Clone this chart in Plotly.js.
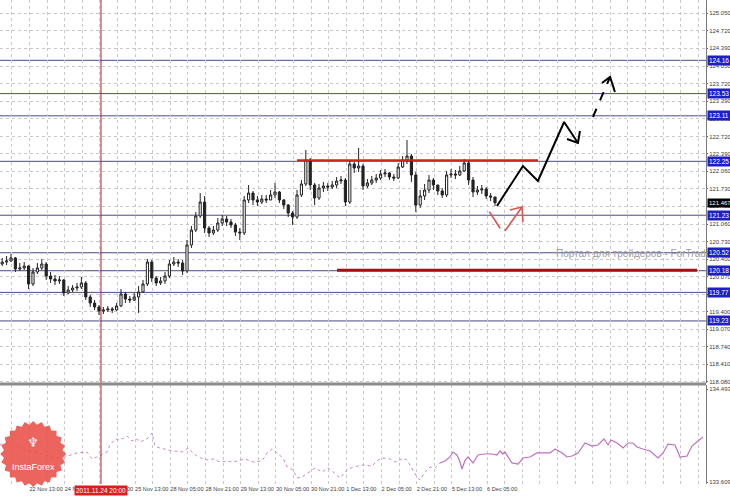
<!DOCTYPE html>
<html><head><meta charset="utf-8">
<script src="https://cdn.plot.ly/plotly-3.0.1.min.js"></script>
<style>html,body{margin:0;padding:0;background:#fff}#c{width:730px;height:497px}</style>
</head><body><div id="c"></div>
<script>
// ---- price candles (H2 bars, x in H1-bar units) ----
const open = [120.307,120.345,120.364,120.421,120.213,120.232,120.269,119.929,120.156,120.232,
120.307,120.080,120.024,119.986,120.005,119.759,119.815,119.853,119.872,119.948,
119.683,119.569,119.494,119.418,119.437,119.456,119.437,119.513,119.740,119.645,
119.626,119.683,119.778,119.929,120.345,120.042,119.948,119.986,120.080,120.307,
120.345,120.326,120.175,120.667,120.950,121.215,121.480,120.988,120.894,120.950,
121.083,121.159,121.102,121.045,120.913,120.894,121.518,121.650,121.518,121.480,
121.537,121.518,121.613,121.669,121.518,121.423,121.272,121.196,121.613,121.821,
122.275,121.802,121.556,121.745,121.783,121.764,121.802,121.877,121.896,121.480,
122.199,122.123,122.161,121.783,121.840,121.896,121.934,122.010,122.029,121.953,
121.934,122.142,122.275,122.350,121.991,121.423,121.594,121.707,121.896,121.802,
121.688,121.613,121.991,122.010,121.991,122.067,122.218,121.896,121.669,121.707,
121.726,121.594,121.575];
const high = [120.421,120.459,120.496,120.440,120.326,120.345,120.288,120.232,120.326,120.402,
120.345,120.156,120.099,120.080,120.024,119.891,119.910,119.948,120.061,119.986,
119.721,119.626,119.532,119.494,119.513,119.494,119.569,119.834,119.778,119.702,
119.759,119.891,120.005,120.402,120.383,120.080,120.061,120.156,120.383,120.440,
120.402,120.383,120.761,121.026,121.291,121.650,121.594,121.026,121.026,121.178,
121.234,121.215,121.159,121.083,120.988,121.594,121.802,121.688,121.594,121.613,
121.613,121.707,121.840,121.688,121.537,121.442,121.310,121.707,121.896,122.464,
122.313,121.840,121.821,121.859,121.840,121.877,121.953,121.972,121.934,122.275,
122.237,122.502,122.199,121.915,121.972,122.010,122.086,122.104,122.048,122.010,
122.218,122.350,122.653,122.388,122.048,121.707,121.821,121.991,121.934,121.802,
121.745,122.067,122.104,122.086,122.161,122.294,122.256,121.953,121.783,121.802,
121.764,121.650,121.575];
const low = [120.269,120.288,120.345,120.156,120.175,120.194,119.834,119.891,120.118,120.194,
120.005,119.948,119.910,119.929,119.702,119.740,119.778,119.796,119.834,119.626,
119.494,119.437,119.342,119.361,119.399,119.380,119.418,119.494,119.569,119.569,
119.607,119.380,119.759,119.891,119.967,119.891,119.910,119.929,120.042,120.269,
120.251,120.099,120.137,120.610,120.913,121.178,120.894,120.818,120.856,120.913,
121.026,121.026,120.988,120.837,120.761,120.856,121.461,121.423,121.405,121.442,
121.461,121.518,121.556,121.461,121.348,121.196,121.045,121.159,121.575,121.783,
121.707,121.423,121.518,121.669,121.688,121.726,121.745,121.821,121.405,121.442,
122.029,122.048,121.707,121.745,121.802,121.840,121.896,121.953,121.896,121.877,
121.915,122.123,122.199,121.859,121.291,121.367,121.518,121.650,121.707,121.613,
121.556,121.575,121.934,121.915,121.972,122.048,121.802,121.575,121.613,121.632,
121.537,121.499,121.405];
const close = [120.345,120.364,120.421,120.213,120.232,120.269,119.929,120.156,120.232,120.307,
120.080,120.024,119.986,120.005,119.759,119.815,119.853,119.872,119.948,119.683,
119.569,119.494,119.418,119.437,119.456,119.437,119.513,119.740,119.645,119.626,
119.683,119.778,119.929,120.345,120.042,119.948,119.986,120.080,120.307,120.345,
120.326,120.175,120.667,120.950,121.215,121.480,120.988,120.894,120.950,121.083,
121.159,121.102,121.045,120.913,120.894,121.518,121.650,121.518,121.480,121.537,
121.518,121.613,121.669,121.518,121.423,121.272,121.196,121.613,121.821,122.275,
121.802,121.556,121.745,121.783,121.764,121.802,121.877,121.896,121.480,122.199,
122.123,122.161,121.783,121.840,121.896,121.934,122.010,122.029,121.953,121.934,
122.142,122.275,122.350,121.991,121.423,121.594,121.707,121.896,121.802,121.688,
121.613,121.991,122.010,121.991,122.067,122.218,121.896,121.669,121.707,121.726,
121.594,121.575,121.467];
const lastPrice = 121.467;

// ---- horizontal levels ----
const levelValues = [124.16,123.53,123.11,122.25,121.23,120.52,120.18,119.77,119.23];
const levelLabels = ["124.16","123.53","123.11","122.25","121.23","120.52","120.18","119.77","119.23"];
const resistanceLine = {x:[135,244.5], y:[122.27,122.27]};
const supportLine = {x:[153.2,316.8], y:[120.19,120.19]};

// ---- forecast drawings ----
const forecastX = [225.9,237.7,244.5,256.4,262.7,null,257.7,262.7,263.6];
const forecastY = [121.405,122.161,121.877,122.994,122.596,null,122.672,122.596,122.823];
const forecastDashX = [269.5,277.3];
const forecastDashY = [123.088,123.845];
const forecastHeadX = [273.6,277.3,279.5];
const forecastHeadY = [123.731,123.845,123.561];
const altX = [222.4,227.3,null,229.5,237.3,null,231.8,237.3,237.7];
const altY = [121.297,120.983,null,120.932,121.386,null,121.329,121.386,121.102];

// ---- indicator sub-window ----
const indDotX = [0,2.3,4.5,8.2,11.8,15.9,20.5,25,29.5,35,39.5,41.8,44.1,46.4,48.6,50,52.3,54.5,57.7,60,62.3,63.6,66.8,69.1,70.5,72.7,75.9,78.6,82.7,85.5,87.3,90,94.1,96.8,100,103.2,105.9,111.4,115,119.1,121.4,123.6,125.9,128.6,130.5,133.2,135,137.3,140,143.2,146.4,149.1,151.4,154.5,157.7,160.5,165,169.1,171.8,174.1,177.3,179.5,181.8,183.2,185,187.3,189.5,190.9,193.2,195.5,197.7,200];
const indDotY = [133.961,133.980,133.980,133.942,133.913,133.894,133.866,133.837,133.847,133.885,133.894,133.828,133.847,133.875,133.894,133.961,134.018,134.008,134.046,133.999,134.018,133.989,134.018,134.075,133.951,133.932,133.913,133.904,133.894,133.932,133.894,133.847,133.818,133.828,133.799,133.809,133.799,133.828,133.799,133.809,133.885,133.923,133.885,133.837,133.752,133.723,133.647,133.657,133.695,133.742,133.704,133.742,133.704,133.647,133.723,133.752,133.771,133.761,133.818,133.837,133.828,133.799,133.818,133.837,133.818,133.742,133.657,133.628,133.704,133.752,133.742,133.790];
const indSolidX = [200,202.3,204.5,205.9,207.7,209.1,210,211.4,212.7,215,217.3,220.5,223.6,225.9,227.3,228.6,229.5,232.7,235.5,237.7,240.9,244.1,246.8,250,252.3,255.5,257.7,260,262.7,265.9,269.1,271.8,274.5,276.4,277.7,280.5,283.2,285.5,287.7,289.5,292.3,295.5,299.1,301.4,303.6,306.8,309.1,312.3,314.5,317.3,319.5];
const indSolidY = [133.790,133.809,133.847,133.894,133.866,133.799,133.733,133.818,133.847,133.790,133.866,133.875,133.875,133.866,133.904,133.875,133.894,133.790,133.780,133.837,133.847,133.885,133.885,133.885,133.923,133.885,133.847,133.856,133.885,133.980,133.951,133.961,134.018,133.961,134.008,133.980,133.932,133.980,133.980,133.942,133.923,133.904,133.837,133.885,133.970,133.961,133.847,133.856,133.951,133.999,134.037];
const indTicks = [134.493,133.609];
const indTickText = ["134.493","133.609"];

// ---- axes ticks ----
const priceTicks = [125.05,124.72,124.39,124.05,123.72,123.39,123.06,122.72,122.39,122.06,121.73,121.40,121.06,120.73,120.40,120.07,119.73,119.40,119.07,118.74,118.41,118.08];
const priceTickText = ["125.050","124.720","124.390","124.050","123.720","123.390","123.060","122.720","122.390","122.060","121.730","121.400","121.060","120.730","120.400","120.070","119.730","119.400","119.070","118.740","118.410","118.080"];
const timeTicks = [13.4,29.4,45.4,61.4,77.4,93.4,109.4,125.4,141.4,157.4,173.4,189.4,205.4,221.4];
const timeTickText = ["22 Nov 13:00","24 Nov 05:00","24 Nov 21:00","25 Nov 13:00","28 Nov 05:00","28 Nov 21:00","29 Nov 13:00","30 Nov 05:00","30 Nov 21:00","1 Dec 13:00","2 Dec 05:00","2 Dec 21:00","5 Dec 13:00","6 Dec 05:00"];
const firstTick = {x:-2.6, text:"21 Nov 21:00"};
const markerTime = {x:45.9, text:"2011.11.24 20:00"};

const barX = open.map((_, j) => 1 + 2*j);
const FONT = "Liberation Sans, Arial, sans-serif";

const traces = [
  {type:'candlestick', x:barX, open:open, high:high, low:low, close:close, xaxis:'x', yaxis:'y',
   increasing:{line:{color:'#222222',width:1}, fillcolor:'#ffffff'},
   decreasing:{line:{color:'#222222',width:1}, fillcolor:'#222222'},
   whiskerwidth:0, hoverinfo:'skip', showlegend:false},
  {type:'scatter', mode:'lines', x:resistanceLine.x, y:resistanceLine.y, yaxis:'y',
   line:{color:'#d62020',width:2}, hoverinfo:'skip', showlegend:false},
  {type:'scatter', mode:'lines', x:supportLine.x, y:supportLine.y, yaxis:'y',
   line:{color:'#a50f0f',width:3}, hoverinfo:'skip', showlegend:false},
  {type:'scatter', mode:'lines', x:forecastX, y:forecastY, yaxis:'y',
   line:{color:'#000000',width:2}, hoverinfo:'skip', showlegend:false},
  {type:'scatter', mode:'lines', x:forecastDashX, y:forecastDashY, yaxis:'y',
   line:{color:'#000000',width:2,dash:'dash'}, hoverinfo:'skip', showlegend:false},
  {type:'scatter', mode:'lines', x:forecastHeadX, y:forecastHeadY, yaxis:'y',
   line:{color:'#000000',width:2}, hoverinfo:'skip', showlegend:false},
  {type:'scatter', mode:'lines', x:altX, y:altY, yaxis:'y',
   line:{color:'#d9534f',width:1.6}, hoverinfo:'skip', showlegend:false},
  {type:'scatter', mode:'lines', x:indDotX, y:indDotY, yaxis:'y2',
   line:{color:'#c58bc5',width:1,dash:'dot'}, hoverinfo:'skip', showlegend:false},
  {type:'scatter', mode:'lines', x:indSolidX, y:indSolidY, yaxis:'y2',
   line:{color:'#c070c0',width:1.2}, hoverinfo:'skip', showlegend:false}
];

const shapes = [];
levelValues.forEach(v => shapes.push({type:'line', xref:'paper', x0:0, x1:1, yref:'y', y0:v, y1:v,
  line:{color:'#4a4a86',width:1}, layer:'between'}));
shapes.push({type:'line', xref:'x', x0:markerTime.x, x1:markerTime.x, yref:'paper', y0:0, y1:1,
  line:{color:'#a82020',width:1}, layer:'above'});
shapes.push({type:'line', xref:'paper', x0:0, x1:1, yref:'paper', y0:0.2066, y1:0.2066,
  line:{color:'#8c8c8c',width:3}, layer:'above'});
let p = '';
const nPts = 48;
for (let k = 0; k < nPts; k++) {
  const r = (k % 2 === 0) ? 33 : 29.5;
  const a = 2*Math.PI*k/nPts;
  p += (k === 0 ? 'M' : 'L') + (r*Math.cos(a)).toFixed(2) + ',' + (r*Math.sin(a)).toFixed(2);
}
p += 'Z';
shapes.push({type:'path', xref:'paper', yref:'paper', xsizemode:'pixel', ysizemode:'pixel',
  xanchor:0.047, yanchor:0.062, path:p, fillcolor:'rgba(232,80,72,0.88)', line:{width:0}, layer:'above'});

const annotations = [];
annotations.push({xref:'x', yref:'y', x:252, y:120.50, xanchor:'left', yanchor:'middle', showarrow:false,
  text:'Портал для трейдеров - ForTrader.ru', font:{family:FONT, size:10, color:'#a0a0a0'}});
levelValues.forEach((v,i) => annotations.push({xref:'paper', yref:'y', x:1, y:v, xanchor:'left', yanchor:'middle',
  xshift:1, showarrow:false, text:levelLabels[i], bgcolor:'#1f1fc4', borderpad:1,
  font:{family:FONT, size:6.5, color:'#ffffff'}}));
annotations.push({xref:'paper', yref:'y', x:1, y:lastPrice, xanchor:'left', yanchor:'middle', xshift:1,
  showarrow:false, text:'121.467', bgcolor:'#000000', borderpad:1, font:{family:FONT, size:6, color:'#ffffff'}});
annotations.push({xref:'x', yref:'paper', x:markerTime.x, y:0, yanchor:'top', xanchor:'center', yshift:-1,
  showarrow:false, text:markerTime.text, bgcolor:'#e01b1b', borderpad:1, font:{family:FONT, size:6.5, color:'#ffffff'}});
annotations.push({xref:'x', yref:'paper', x:firstTick.x, y:0, yanchor:'top', xanchor:'left', yshift:-2,
  showarrow:false, text:firstTick.text, font:{family:FONT, size:5.6, color:'#404040'}});
annotations.push({xref:'paper', yref:'paper', x:0.047, y:0.085, xanchor:'center', yanchor:'middle',
  showarrow:false, text:'♆', font:{family:'DejaVu Sans', size:13, color:'#ffffff'}});
annotations.push({xref:'paper', yref:'paper', x:0.047, y:0.035, xanchor:'center', yanchor:'middle',
  showarrow:false, text:'InstaForex', font:{family:FONT, size:9, color:'#ffffff'}});

const layout = {
  width:730, height:497, margin:{l:0, r:24, t:0, b:13},
  paper_bgcolor:'#ffffff', plot_bgcolor:'#ffffff',
  showlegend:false, font:{family:FONT, size:6, color:'#404040'},
  xaxis:{anchor:'y2', range:[0,320.9], rangeslider:{visible:false}, fixedrange:true,
    tickmode:'array', tickvals:timeTicks, ticktext:timeTickText, ticks:'', tickangle:0, ticklabelposition:'outside right',
    ticklabeloverflow:'allow', showgrid:false, zeroline:false, showline:false,
    tickfont:{family:FONT, size:5.6, color:'#404040'},
    minor:{tickmode:'linear', tick0:5.4, dtick:8, showgrid:true, gridcolor:'#c8c8c8', griddash:'dot', gridwidth:1, ticks:''}},
  yaxis:{domain:[0.2087,1], anchor:'x', side:'right', range:[118.056,125.3016], fixedrange:true,
    tickmode:'array', tickvals:priceTicks, ticktext:priceTickText, ticks:'outside', ticklen:1, tickcolor:'#606060',
    showgrid:true, gridcolor:'#c8c8c8', griddash:'dot', zeroline:false, ticklabeloverflow:'allow',
    showline:true, linecolor:'#7a7a7a', linewidth:1, tickfont:{family:FONT, size:6, color:'#404040'}},
  yaxis2:{domain:[0,0.2045], anchor:'x', side:'right', range:[133.590,134.531], fixedrange:true,
    tickmode:'array', tickvals:indTicks, ticktext:indTickText, ticks:'outside', ticklen:1, tickcolor:'#606060',
    showgrid:false, zeroline:false, showline:true, linecolor:'#7a7a7a', linewidth:1, ticklabeloverflow:'allow',
    tickfont:{family:FONT, size:6, color:'#404040'}},
  shapes:shapes, annotations:annotations
};

Plotly.newPlot('c', traces, layout, {displayModeBar:false, staticPlot:true});
</script></body></html>
